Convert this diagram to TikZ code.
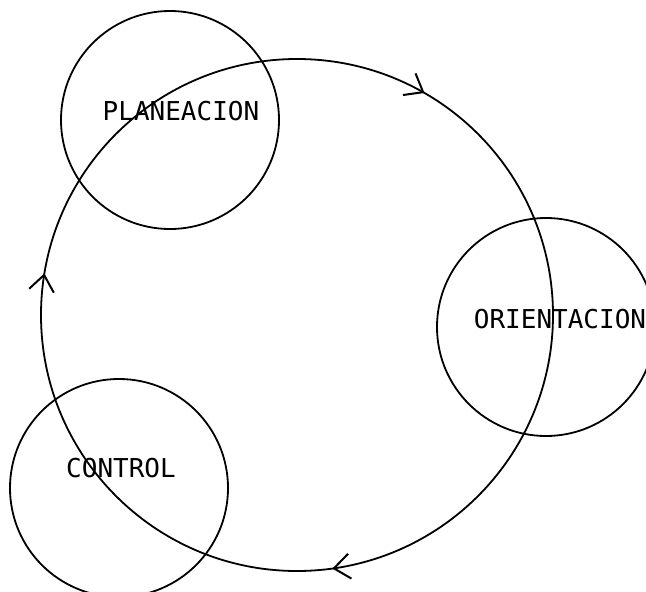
\documentclass[tikz,border=0pt]{standalone}
\usepackage{fontspec}
\setmonofont{DejaVu Sans Mono}
\usetikzlibrary{arrows.meta,decorations.markings}

\begin{document}
\begin{tikzpicture}[x=1pt,y=-1pt,
    ring/.style={draw,circle,line width=1.8pt,minimum size=218pt,inner sep=0pt},
    tag/.style={font=\ttfamily\fontsize{26}{30}\selectfont,inner sep=0pt},
    barb/.tip={Straight Barb[length=16pt,width=25pt,line width=2pt]},
    cycle/.style={line width=1.8pt,postaction={decorate},
      decoration={markings,
        mark=at position 0.228 with {\arrow{barb}},
        mark=at position 0.526 with {\arrow{barb}},
        mark=at position 0.833 with {\arrow{barb}}}}]
			\useasboundingbox (0,0) rectangle (646,592);
			\clip (0,0) rectangle (646,592);
			\draw[cycle] (297,315) circle[radius=256];
			\node[ring] (plan) at (170,120) {};
			\node[ring] (orient) at (546,327) {};
			\node[ring] (ctrl) at (119,488) {};
			\node[tag] (planTxt) at (181,111) {PLANEACION};
			\node[tag] (orientTxt) at (560,319) {ORIENTACION};
			\node[tag] (ctrlTxt) at (121,468) {CONTROL};
			%Circulo de la gestion
		\end{tikzpicture}
\end{document}
